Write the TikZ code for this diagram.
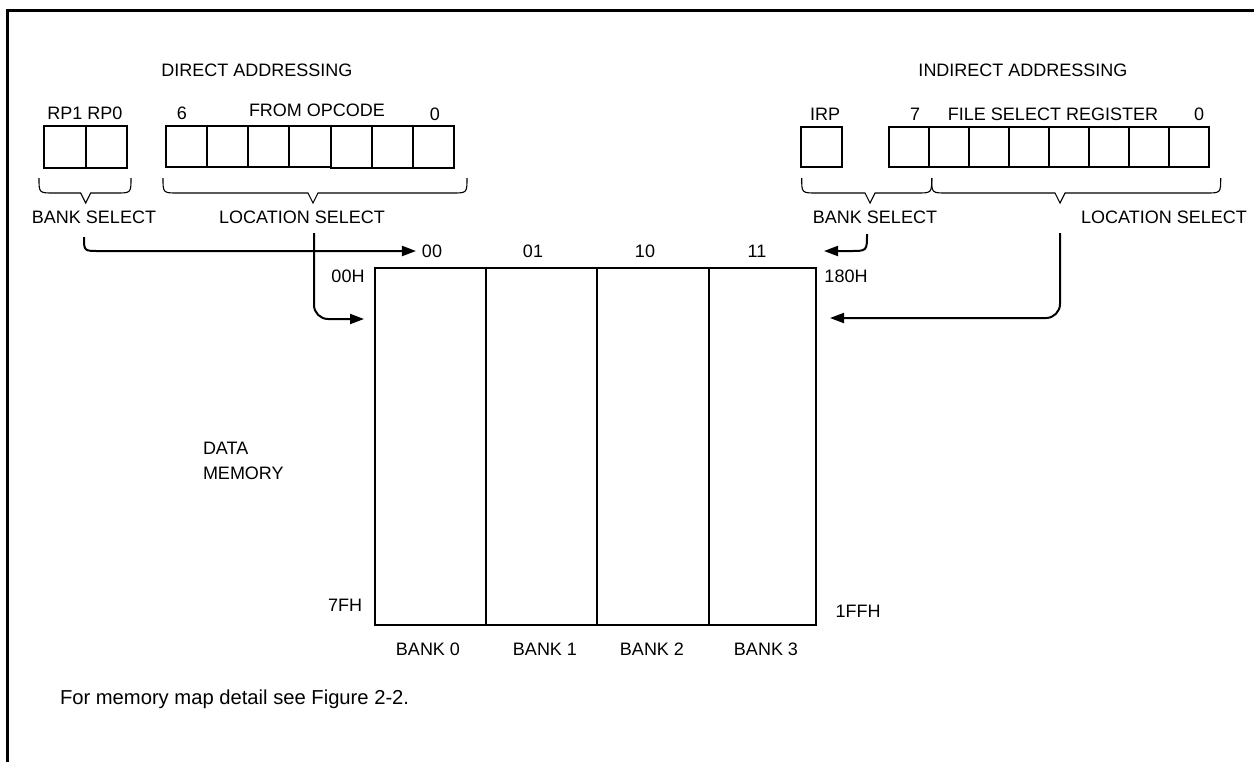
\documentclass[tikz,border=0pt]{standalone}
\usepackage{fontspec}
\setmainfont{Liberation Sans}
\usetikzlibrary{arrows.meta}
\newcommand{\mybrace}[3]{%
  \draw[bracestyle] (#1,178) .. controls (#1,193) .. ({#1+15},193) -- ({#2-5},193) -- (#2,203) -- ({#2+5},193) -- ({#3-15},193) .. controls (#3,193) .. (#3,178);}
\begin{document}
\begin{tikzpicture}[x=1pt,y=-1pt,
  lbl/.style={inner sep=0pt, outer sep=0pt, font=\fontsize{18}{21.6}\selectfont},
  notestyle/.style={inner sep=0pt, outer sep=0pt, font=\fontsize{20.2}{24}\selectfont},
  cell/.style={draw, line width=2pt, inner sep=0pt, outer sep=0pt, minimum width=#1},
  cell/.default=41pt,
  bankbox/.style={draw, line width=2pt, inner sep=0pt, outer sep=0pt, minimum height=357pt, minimum width=#1},
  conn/.style={line width=2pt, -{Triangle[length=14pt,width=10pt]}},
  bracestyle/.style={line width=1.1pt},
  framestyle/.style={line width=2.5pt}]
\useasboundingbox (0,0) rectangle (1254,761);

% frame
\draw[framestyle] (1256,10.5) -- (7.5,10.5) -- (7.5,763);

% titles
\node[lbl] (dirT) at (257,70) {DIRECT ADDRESSING};
\node[lbl] (indT) at (1023,70) {INDIRECT ADDRESSING};

% direct addressing registers
\node[lbl] (rpL) at (85,113.5) {RP1 RP0};
\node[cell=41.5pt, minimum height=42pt] (rp1) at (64.75,147) {};
\node[cell=41.5pt, minimum height=42pt] (rp0) at (106.25,147) {};
\node[lbl] (six) at (182,113) {6};
\node[lbl] (fromop) at (317,110) {FROM OPCODE};
\node[lbl] (zeroA) at (435,114) {0};
\foreach \k in {0,1,2,3} {
  \node[cell=41.2pt, minimum height=40.5pt] (op\k) at ({186.3+41.2*\k},146.25) {};
}
\foreach \k in {4,5,6} {
  \node[cell=41.2pt, minimum height=42pt] (op\k) at ({186.3+41.2*\k},147) {};
}

% indirect addressing registers
\node[lbl] (irpL) at (825,114) {IRP};
\node[cell=41pt, minimum height=40pt] (irp) at (821.5,147) {};
\node[lbl] (seven) at (915,114) {7};
\node[lbl] (fsrL) at (1053,114) {FILE SELECT REGISTER};
\node[lbl] (zeroB) at (1199,114) {0};
\foreach \k in {0,...,7} {
  \node[cell=40pt, minimum height=40pt] (fsr\k) at ({909.3+40*\k},147) {};
}

% braces
\mybrace{39}{85.7}{131}
\mybrace{163}{313}{467}
\mybrace{801.7}{870}{931.7}
\mybrace{931.7}{1060}{1220.7}

% brace labels
\node[lbl] (bsA) at (94,217) {BANK SELECT};
\node[lbl] (lsA) at (302,217) {LOCATION SELECT};
\node[lbl] (bsB) at (875,217) {BANK SELECT};
\node[lbl] (lsB) at (1164,217) {LOCATION SELECT};

% bank numbers
\node[lbl] (n00) at (432,251) {00};
\node[lbl] (n01) at (533,251) {01};
\node[lbl] (n10) at (645,251) {10};
\node[lbl] (n11) at (757,251) {11};

% memory
\node[bankbox=111pt] (b0) at (430.5,446.5) {};
\node[bankbox=111pt] (b1) at (541.5,446.5) {};
\node[bankbox=112pt] (b2) at (653,446.5) {};
\node[bankbox=107pt] (b3) at (762.5,446.5) {};

\node[lbl] (a00) at (348,276) {00H};
\node[lbl] (a180) at (846,276) {180H};
\node[lbl] (a7f) at (345,605) {7FH};
\node[lbl] (a1ff) at (858,611) {1FFH};

\node[lbl] (bk0) at (428,649) {BANK 0};
\node[lbl] (bk1) at (545,649) {BANK 1};
\node[lbl] (bk2) at (652,649) {BANK 2};
\node[lbl] (bk3) at (766,649) {BANK 3};

\node[lbl, anchor=base west] (dataL) at (203,454.5) {DATA};
\node[lbl, anchor=base west] (memL) at (203,479.5) {MEMORY};

\node[notestyle, anchor=base west] (note) at (60,704) {For memory map detail see Figure 2-2.};

% connector end points
\coordinate (sA) at (84,237);
\coordinate (lA) at (314,233);
\coordinate (tA) at (364,319);
\coordinate (sB) at (867,234);
\coordinate (tB) at (824,251);
\coordinate (lB) at (1060,233);
\coordinate (tC) at (830,318);

% connectors
\draw[conn] (sA) .. controls (84,251) .. (99,251) -- ([xshift=-6pt]n00.west);
\draw[conn, rounded corners=14pt] (lA) |- (tA);
\draw[conn] (sB) .. controls (867,251) .. (850,251) -- (tB);
\draw[conn, rounded corners=14pt] (lB) |- (tC);
\end{tikzpicture}
\end{document}
